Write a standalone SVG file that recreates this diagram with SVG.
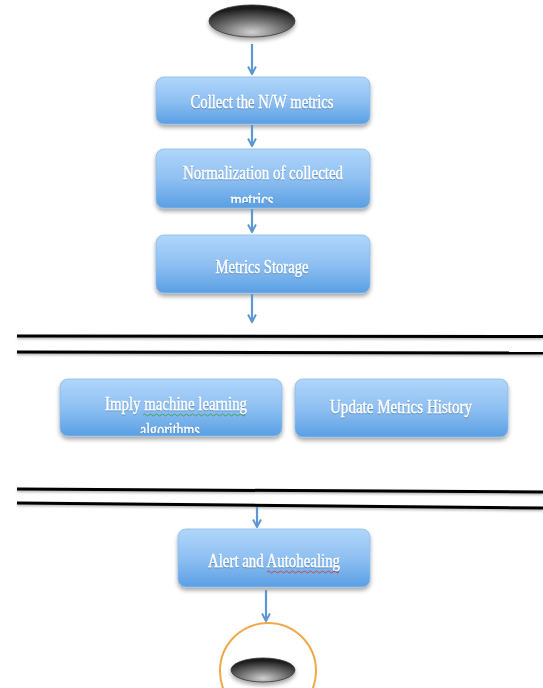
<svg xmlns="http://www.w3.org/2000/svg" width="543" height="688" viewBox="0 0 543 688">
<style>
.box{fill:url(#bg);stroke:#8cbbe8;stroke-width:0.8;filter:url(#sh)}
.t{font-family:"Liberation Serif","DejaVu Serif",serif;font-size:19px;fill:#ffffff;stroke:#ffffff;stroke-width:0.35;text-anchor:middle;filter:url(#ts)}
.c{stroke:#5b98d2;stroke-width:2.2;fill:none;marker-end:url(#ah)}
.sep{stroke:#000;stroke-width:3;fill:none;filter:url(#ls)}
</style>
<defs>
<linearGradient id="bg" x1="0" y1="0" x2="0" y2="1">
<stop offset="0" stop-color="#b0d6fb"/>
<stop offset="0.5" stop-color="#8fc0f2"/>
<stop offset="1" stop-color="#5a9fe3"/>
</linearGradient>
<radialGradient id="eg" cx="0.5" cy="0.85" r="0.75">
<stop offset="0" stop-color="#d0d0d0"/>
<stop offset="0.5" stop-color="#707070"/>
<stop offset="1" stop-color="#1a1a1a"/>
</radialGradient>
<filter id="sh" x="-10%" y="-20%" width="120%" height="150%">
<feDropShadow dx="0" dy="3" stdDeviation="2" flood-color="#000" flood-opacity="0.35"/>
</filter>
<filter id="ts" x="-10%" y="-30%" width="120%" height="160%">
<feDropShadow dx="0" dy="1" stdDeviation="0.6" flood-color="#2a5a8a" flood-opacity="0.5"/>
</filter>
<filter id="ls" filterUnits="userSpaceOnUse" x="0" y="300" width="543" height="250">
<feDropShadow dx="0" dy="1.5" stdDeviation="1" flood-color="#000" flood-opacity="0.3"/>
</filter>
<marker id="ah" viewBox="0 0 10 10" refX="8.5" refY="5" markerWidth="4.5" markerHeight="4.5" orient="auto" markerUnits="strokeWidth">
<path d="M1,1 L8.5,5 L1,9" fill="none" stroke="#5b98d2" stroke-width="2"/>
</marker>
<clipPath id="cpN"><rect x="156" y="149" width="214" height="54"/></clipPath>
<clipPath id="cpI"><rect x="60" y="379" width="222" height="54"/></clipPath>
</defs>

<g id="start">
<ellipse cx="252" cy="21" rx="43" ry="16" fill="url(#eg)" stroke="#333" stroke-width="0.8" filter="url(#sh)"/>
</g>

<g id="collect">
<rect class="box" x="156" y="77" width="214" height="47" rx="8"/>
<text class="t" x="262" y="108" textLength="143" lengthAdjust="spacingAndGlyphs">Collect the N/W metrics</text>
</g>

<g id="normalization">
<rect class="box" x="156" y="149" width="214" height="59" rx="8"/>
<g clip-path="url(#cpN)">
<text class="t" x="263" y="179" textLength="160" lengthAdjust="spacingAndGlyphs">Normalization of collected</text>
<text class="t" x="252" y="206" textLength="43" lengthAdjust="spacingAndGlyphs">metrics</text>
</g>
</g>

<g id="storage">
<rect class="box" x="156" y="235" width="214" height="58" rx="8"/>
<text class="t" x="262" y="273" textLength="93" lengthAdjust="spacingAndGlyphs">Metrics Storage</text>
</g>

<g id="imply">
<rect class="box" x="60" y="379" width="222" height="57" rx="8"/>
<g clip-path="url(#cpI)">
<text class="t" x="176" y="410" textLength="142" lengthAdjust="spacingAndGlyphs">Imply machine learning</text>
<text class="t" x="170" y="436" textLength="60" lengthAdjust="spacingAndGlyphs">algorithms</text>
</g>
<path d="M143,415 q1.5,-2 3,0 t3,0 t3,0 t3,0 t3,0 t3,0 t3,0 t3,0 t3,0 t3,0 t3,0 t3,0 t3,0 t3,0 t3,0 t3,0 t3,0 t3,0 t3,0 t3,0 t3,0 t3,0 t3,0 t3,0 t3,0 t3,0 t3,0 t3,0 t3,0 t3,0 t3,0 t3,0 t3,0 t3,0" fill="none" stroke="#3aa34a" stroke-width="0.9"/>
</g>

<g id="update">
<rect class="box" x="295" y="379" width="213" height="58" rx="8"/>
<text class="t" x="401" y="413" textLength="142" lengthAdjust="spacingAndGlyphs">Update Metrics History</text>
</g>

<g id="separators">
<line class="sep" x1="17" y1="336" x2="543" y2="336.5"/>
<line class="sep" x1="17" y1="352" x2="543" y2="353"/>
<line class="sep" x1="17" y1="489" x2="543" y2="492"/>
<line class="sep" x1="17" y1="503" x2="543" y2="508"/>
</g>

<g id="alert">
<rect class="box" x="178" y="529" width="192" height="58" rx="8"/>
<text class="t" x="274" y="567" textLength="132" lengthAdjust="spacingAndGlyphs">Alert and Autohealing</text>
<path d="M267,572 q1.5,-2 3,0 t3,0 t3,0 t3,0 t3,0 t3,0 t3,0 t3,0 t3,0 t3,0 t3,0 t3,0 t3,0 t3,0 t3,0 t3,0 t3,0 t3,0 t3,0 t3,0 t3,0 t3,0 t3,0 t3,0" fill="none" stroke="#d03a3a" stroke-width="0.9"/>
</g>

<g id="end">
<circle cx="268" cy="671" r="48" fill="none" stroke="#f0a848" stroke-width="2"/>
<ellipse cx="263" cy="670" rx="32" ry="12" fill="url(#eg)" stroke="#333" stroke-width="0.8" filter="url(#sh)"/>
</g>

<g id="connectors">
<path class="c" d="M252,44 V74"/>
<path class="c" d="M252,125 V146"/>
<path class="c" d="M252,209 V232"/>
<path class="c" d="M252,294 V322"/>
<path class="c" d="M257,507 V527"/>
<path class="c" d="M266,590 V621"/>
</g>
</svg>
